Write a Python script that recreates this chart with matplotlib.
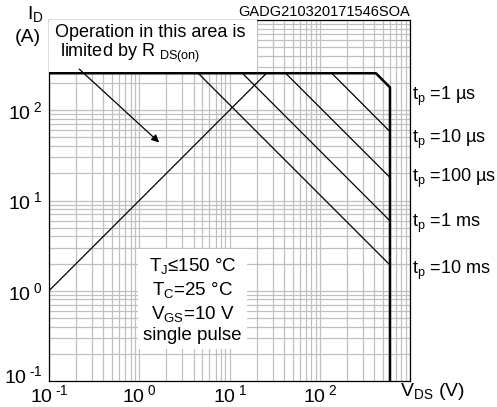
import numpy as np
import matplotlib
matplotlib.use("Agg")
import matplotlib.pyplot as plt
from matplotlib.patches import Rectangle
from matplotlib.transforms import ScaledTranslation
from matplotlib.ticker import LogLocator, FuncFormatter, NullFormatter

plt.rcParams['font.family'] = ['Liberation Sans', 'DejaVu Sans']
plt.rcParams['mathtext.fontset'] = 'custom'
plt.rcParams['mathtext.rm'] = 'Liberation Sans'
plt.rcParams['mathtext.it'] = 'Liberation Sans'
plt.rcParams['axes.unicode_minus'] = False

# SOA limits
i_max = 257.0          # A, current limit
v_max = 600.0          # V, breakdown limit
rds_v = [0.1, 25.7]    # R_DS(on) line
rds_i = [1.0, 257.0]

pulse_labels = ['1 µs', '10 µs', '100 µs', '1 ms', '10 ms']
pulse_knee_v = [419.0, 136.0, 41.9, 13.9, 4.5]     # where each line leaves I_max
pulse_end_i = [179.0, 58.0, 18.0, 5.95, 1.93]       # current at V_DS = 600 V
label_y = [144, 47, 17.7, 5.6, 1.66]

fig = plt.figure(figsize=(4.97, 4.07), dpi=100)
ax = fig.add_axes([49/497, 1-381/407, 361/497, 361/407])
ax.set_xscale('log')
ax.set_yscale('log')
ax.set_xlim(0.1, 1000)
ax.set_ylim(0.1, 1000)

ax.grid(True, which='both', color='#c0c0c0', lw=0.9)
ax.set_axisbelow(True)
ax.xaxis.set_minor_locator(LogLocator(base=10, subs=np.arange(2, 10)))
ax.yaxis.set_minor_locator(LogLocator(base=10, subs=np.arange(2, 10)))
ax.xaxis.set_minor_formatter(NullFormatter())
ax.yaxis.set_minor_formatter(NullFormatter())

def fmt(v, pos):
    e = int(round(np.log10(v)))
    if e == 3:
        return ''
    return r'$\mathregular{10^{\;%s}}$' % str(e).replace('-', '\u2010')

ax.xaxis.set_major_formatter(FuncFormatter(fmt))
ax.yaxis.set_major_formatter(FuncFormatter(fmt))
ax.tick_params(axis='x', which='both', length=0, labelsize=14, pad=2)
ax.tick_params(axis='y', which='both', length=0, labelsize=14, pad=5)
for s in ax.spines.values():
    s.set_color('black')
    s.set_linewidth(0.9)

# outer envelope: current limit, 1 us line, breakdown
ax.plot([0.1, pulse_knee_v[0], v_max, v_max],
        [i_max, i_max, pulse_end_i[0], 0.1], color='black', lw=1.8, zorder=4)
ax.plot(rds_v, rds_i, color='black', lw=0.9, zorder=4)
for kv, ei in zip(pulse_knee_v[1:], pulse_end_i[1:]):
    ax.plot([kv, v_max], [i_max, ei], color='black', lw=0.9, zorder=4)

for lab, y in zip(pulse_labels, label_y):
    ax.text(1.006, (np.log10(y) + 1) / 4, r'$\mathregular{t_{p}}$ =' + lab,
            transform=ax.transAxes, fontsize=13, va='center', ha='left')

ax.add_patch(Rectangle((0, 0.853), 0.576, 0.147, transform=ax.transAxes,
                       fc='white', ec='none', zorder=3))
ax.text(0.016, 0.99, 'Operation in this area is\n limited by R' + r'$\mathregular{\ _{DS(on)}}$',
        transform=ax.transAxes, fontsize=13, va='top', ha='left', linespacing=1.1,
        zorder=5)
ax.annotate('', xy=(1.75, 42), xytext=(0.205, 300),
            arrowprops=dict(arrowstyle='-|>', color='black', lw=0.9,
                            mutation_scale=11), zorder=6)

ax.text(3.9, 0.79,
        r'$\mathregular{T_J}$≤150 °C' + '\n' + r'$\mathregular{T_C}$=25 °C' + '\n'
        + r'$\mathregular{V_{GS}}$=10 V' + '\nsingle pulse',
        fontsize=13.5, ha='center', va='center', linespacing=1.25, zorder=5,
        bbox=dict(boxstyle='square,pad=0.3', fc='white', ec='none'))

fig.text(27/497, 1-14/407, r'$\mathregular{I_D}$', fontsize=14, ha='left', va='center')
fig.text(28/497, 1-38/407, '(A)', fontsize=14, ha='center', va='center')
fig.text(400/497, 1-391/407, r'$\mathregular{V_{DS}}$ (V)', fontsize=14, ha='left', va='center')
fig.text(410/497, 1-12/407, 'GADG210320171546SOA', fontsize=10.5, ha='right', va='center')

# lift the bottom y label clear of the first x label, as in the reference
fig.canvas.draw()
for t in ax.yaxis.get_major_ticks():
    if abs(t.get_loc() - 0.1) < 1e-9:
        t.label1.set_transform(t.label1.get_transform()
                               + ScaledTranslation(0, 5/72, fig.dpi_scale_trans))

fig.savefig('out.png', dpi=100)
